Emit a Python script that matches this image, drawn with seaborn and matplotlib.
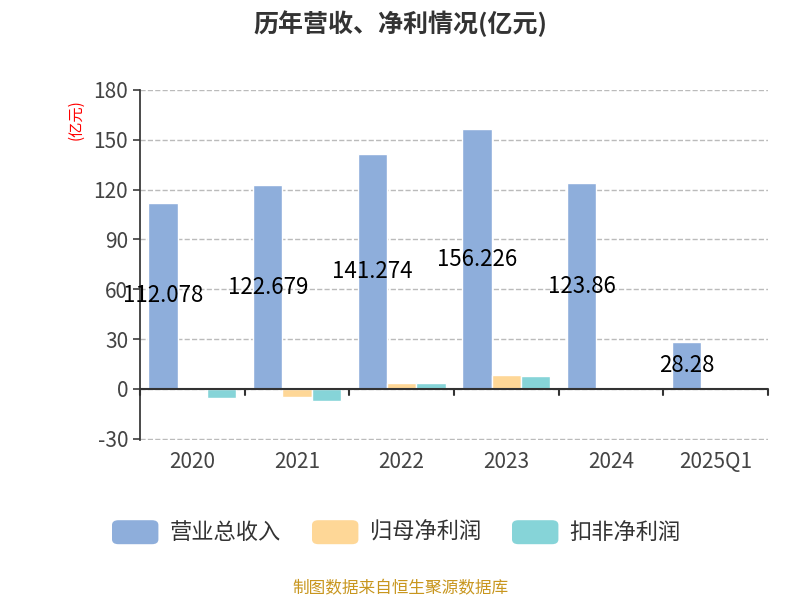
import numpy as np
import pandas as pd
import seaborn as sns
import matplotlib.pyplot as plt
from matplotlib.patches import FancyBboxPatch

years = ['2020', '2021', '2022', '2023', '2024', '2025Q1']
revenue = [112.078, 122.679, 141.274, 156.226, 123.86, 28.28]
net_profit = [0.3, -4.8, 3.6, 8.4, 0.1, 0.3]
deducted = [-5.4, -7.0, 3.6, 7.8, 0.3, 0.5]
series = ['营业总收入', '归母净利润', '扣非净利润']
colors = ['#8eaedb', '#fed797', '#86d4d8']

df = pd.DataFrame({
    'year': years * 3,
    'value': revenue + net_profit + deducted,
    'series': [s for s in series for _ in years],
})

sns.set_theme(style='white')
plt.rcParams['font.family'] = ['Noto Sans CJK SC', 'DejaVu Sans']
plt.rcParams['axes.unicode_minus'] = False

fig = plt.figure(figsize=(8, 6), dpi=100)
ax = fig.add_axes([0.175, 0.267, 0.785, 0.583])
sns.barplot(data=df, x='year', y='value', hue='series', palette=colors,
            width=0.84, ax=ax, legend=False, saturation=1)

ax.set_ylim(-30.6, 180)
ax.set_xlim(-0.5, len(years) - 0.5)
ax.set_yticks(range(-30, 181, 30))
ax.tick_params(axis='y', labelsize=15, colors='#444444', length=5, left=True)
ax.tick_params(axis='x', labelsize=15, colors='#444444', length=0, pad=8)
ax.set_xlabel('')
ax.set_ylabel('')
ax.yaxis.grid(True, linestyle='--', color='#bbbbbb', linewidth=1)
for s in ['top', 'right', 'bottom']:
    ax.spines[s].set_visible(False)
ax.spines['left'].set_color('#333333')
ax.axhline(0, color='#333333', linewidth=1.5, zorder=3)
for b in np.arange(-0.5, len(years), 1.0):
    ax.plot([b, b], [0, -3.5], color='#333333', linewidth=1.5, clip_on=False, zorder=3)

for i, v in enumerate(revenue):
    ax.text(i - 0.28, v / 2, f'{v:g}', ha='center', va='center',
            fontsize=16, color='black', zorder=4)

fig.text(0.095, 0.8, '(亿元)', color='red', rotation=90, fontsize=11, ha='center', va='center')
fig.text(0.5, 0.96, '历年营收、净利情况(亿元)', fontsize=18, fontweight='bold',
         color='#333333', ha='center', va='center')

# legend
lx = [0.14, 0.39, 0.64]
for x, s, c in zip(lx, series, colors):
    fig.patches.append(FancyBboxPatch((x, 0.093), 0.058, 0.04, boxstyle='round,pad=0,rounding_size=0.008',
                                      transform=fig.transFigure, facecolor=c, edgecolor='none'))
    fig.text(x + 0.072, 0.113, s, fontsize=16, color='#333333', va='center')

fig.text(0.5, 0.018, '制图数据来自恒生聚源数据库', fontsize=12, color='#c8961e', ha='center', va='center')

fig.savefig('out.png', dpi=100)
